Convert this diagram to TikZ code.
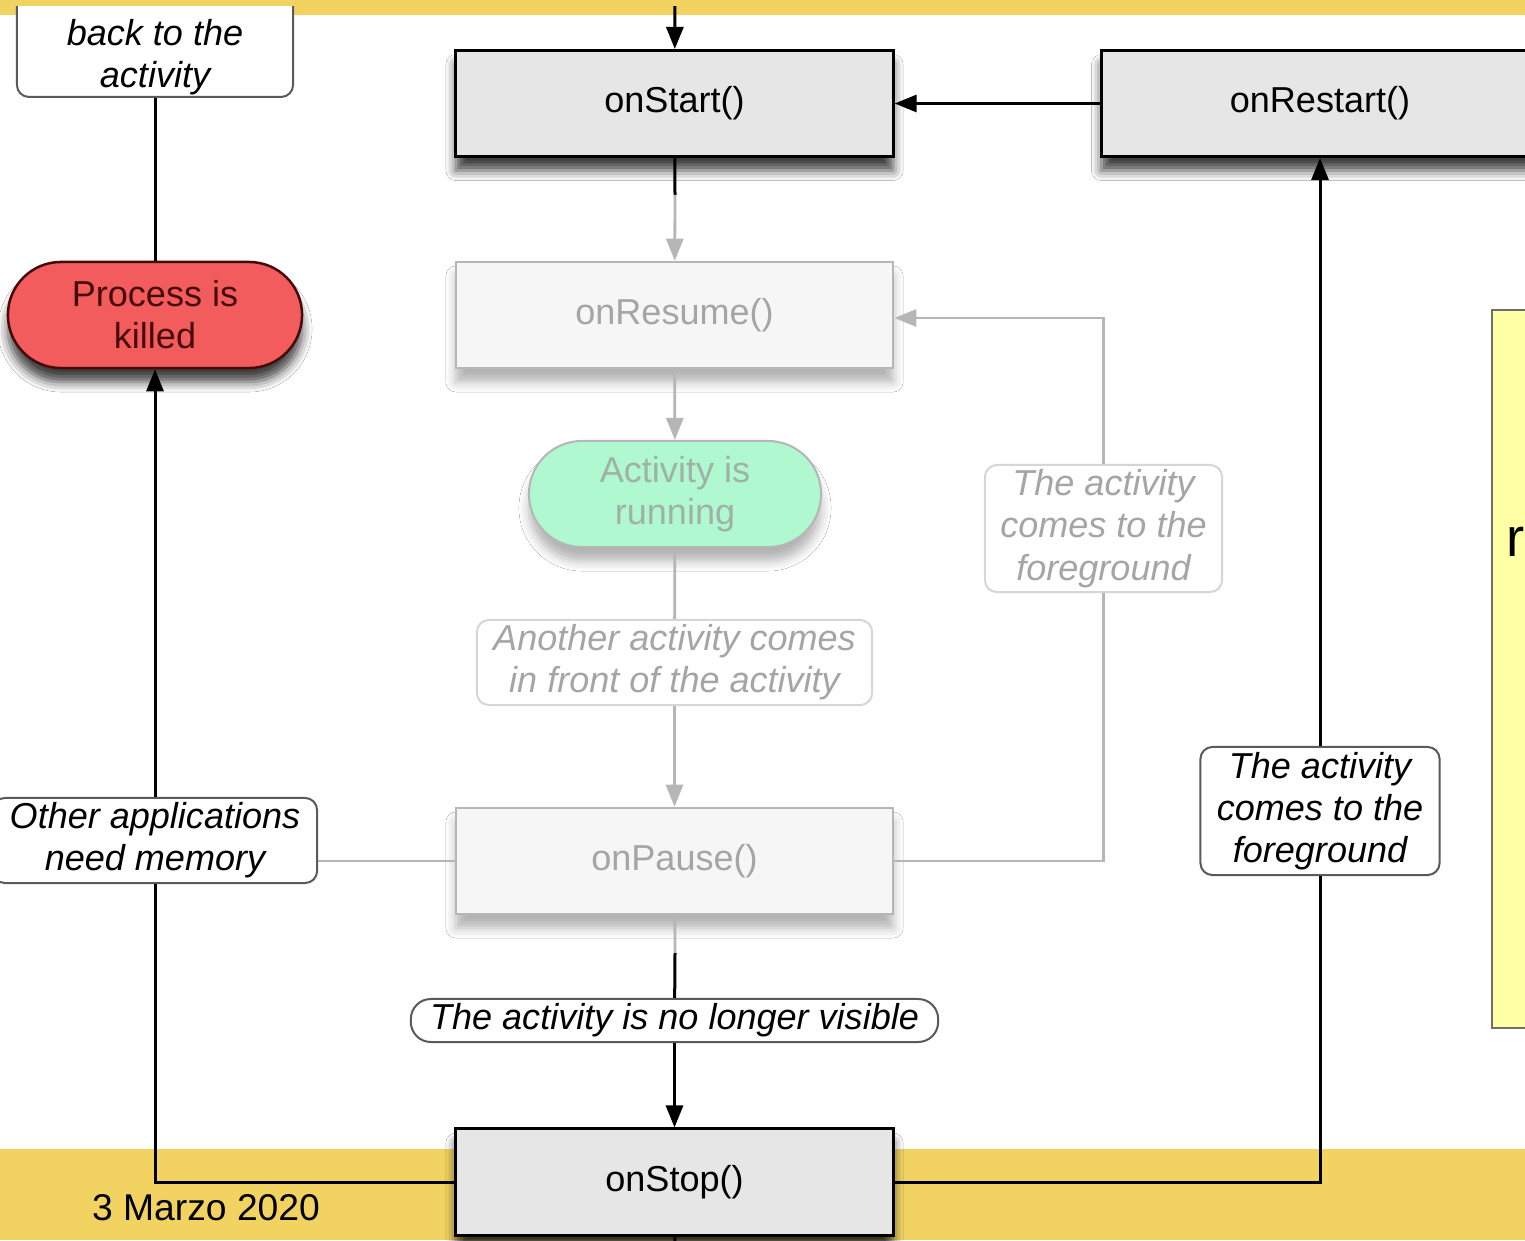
\documentclass[tikz,border=0pt]{standalone}
\usepackage{fontspec}
\setmainfont{Liberation Sans}
\usetikzlibrary{arrows.meta,shadows.blur}
\definecolor{band}{RGB}{242,211,98}
\definecolor{notefill}{RGB}{255,255,166}
\definecolor{noteline}{RGB}{110,110,110}
\definecolor{boxgray}{RGB}{230,230,230}
\definecolor{fadefill}{RGB}{246,246,246}
\definecolor{fadeline}{RGB}{182,182,182}
\definecolor{fadetext}{RGB}{165,165,165}
\definecolor{runfill}{RGB}{176,248,208}
\definecolor{runtext}{RGB}{160,178,168}
\definecolor{killfill}{RGB}{242,92,92}
\definecolor{killline}{RGB}{70,10,10}
\definecolor{lblline}{RGB}{90,90,90}
\definecolor{fadelbl}{RGB}{214,214,214}
\begin{document}
\begin{tikzpicture}[x=0.01cm,y=-0.01cm,
  every node/.style={font=\fontsize{10.25}{12}\selectfont, align=center, inner sep=0pt},
  strong shadow/.style={blur shadow={shadow xshift=0cm, shadow yshift=-0.14cm, shadow blur radius=0.1cm, shadow opacity=75}},
  soft shadow/.style={blur shadow={shadow xshift=0cm, shadow yshift=-0.14cm, shadow blur radius=0.1cm, shadow opacity=30}},
  lifebox/.style={draw=black, line width=0.03cm, fill=boxgray, minimum width=4.37cm, minimum height=1.06cm, strong shadow},
  fadebox/.style={draw=fadeline, line width=0.025cm, fill=fadefill, text=fadetext, minimum width=4.37cm, minimum height=1.06cm, soft shadow},
  lblbox/.style={draw=lblline, line width=0.02cm, fill=white, rounded corners=0.12cm, font=\fontsize{10.25}{12}\selectfont\itshape},
  fadelblbox/.style={lblbox, draw=fadelbl, text=fadetext},
  blk/.style={draw=black, line width=0.03cm},
  gry/.style={draw=fadeline, line width=0.028cm},
  tip/.style={-{Triangle[length=0.22cm,width=0.17cm]}}
]
\useasboundingbox (0,0) rectangle (1525,1240);
\fill[white] (0,0) rectangle (1525,1240);
\fill[band] (0,0) rectangle (1525,15);
\fill[band] (0,1149) rectangle (1525,1240);
\draw[draw=noteline, fill=notefill, line width=0.012cm] (1492,310) rectangle (1560,1028);
\node[anchor=base west, font=\fontsize{15.5}{18}\selectfont] (notechar) at (1506,557) {r};
\node[font=\fontsize{10.6}{13}\selectfont] (date) at (206,1208) {3 Marzo 2020};
\begin{scope}
  \clip (0,7) rectangle (1525,1240);
  \node[lifebox] (start) at (674.5,103.5) {onStart()};
  \node[lifebox] (restart) at (1320,103.5) {onRestart()};
  \node[fadebox] (resume) at (674.5,315) {onResume()};
  \node[draw=fadeline, line width=0.02cm, fill=runfill, text=runtext, minimum width=2.92cm, minimum height=1.06cm, rounded corners=0.53cm, soft shadow] (running) at (675,494) {Activity is\\running};
  \node[fadelblbox, minimum width=3.95cm, minimum height=0.85cm] (another) at (674.5,662.5) {Another activity comes\\in front of the activity};
  \node[fadebox] (pause) at (674.5,861) {onPause()};
  \node[lblbox, minimum width=5.27cm, minimum height=0.43cm, rounded corners=0.2cm] (novisible) at (674.5,1020.5) {The activity is no longer visible};
  \node[lifebox] (stop) at (674.5,1182) {onStop()};
  \node[draw=killline, line width=0.025cm, fill=killfill, text=killline, minimum width=2.94cm, minimum height=1.06cm, rounded corners=0.53cm, strong shadow] (killed) at (155,315) {Process is\\killed};
  \node[lblbox, minimum width=3.24cm, minimum height=0.85cm] (othermem) at (155,840.5) {Other applications\\need memory};
  \node[lblbox, minimum width=2.76cm, minimum height=1.6cm, anchor=south] (backto) at (155,98) {};
  \node[font=\fontsize{10.25}{12}\selectfont\itshape] (backtotext) at (155,57) {back to the\\activity};
  \node[fadelblbox, minimum width=2.37cm, minimum height=1.27cm] (fga) at (1103.5,528.5) {The activity\\comes to the\\foreground};
  \node[lblbox, minimum width=2.39cm, minimum height=1.28cm] (fgb) at (1320,811) {The activity\\comes to the\\foreground};
  \coordinate (entry) at (675,0);
  \coordinate (split1) at (675,195);
  \coordinate (split2) at (675,953);
  \coordinate (exit) at (675,1250);
  \draw[blk,tip] (entry) -- (start);
  \draw[blk] (start) -- (split1);
  \draw[gry,tip] (split1) -- (resume);
  \draw[blk,tip] (restart) -- (start);
  \draw[gry,tip] (resume) -- (running);
  \draw[gry] (running) -- (another);
  \draw[gry,tip] (another) -- (pause);
  \draw[gry] (pause.east) -| (fga);
  \draw[gry,tip] (fga) |- ([yshift=-0.03cm]resume.east);
  \draw[gry] (pause.west) -- (pause.west -| othermem.east);
  \draw[gry] (pause) -- (split2);
  \draw[blk] (split2) -- (novisible);
  \draw[blk,tip] (novisible) -- (stop);
  \draw[blk] (stop.west) -| (othermem);
  \draw[blk,tip] (othermem) -- (killed);
  \draw[blk] (killed) -- (backto);
  \draw[blk] (stop.east) -| (fgb);
  \draw[blk,tip] (fgb) -- (restart);
  \draw[blk] (stop) -- (exit);
\end{scope}
\end{tikzpicture}
\end{document}
